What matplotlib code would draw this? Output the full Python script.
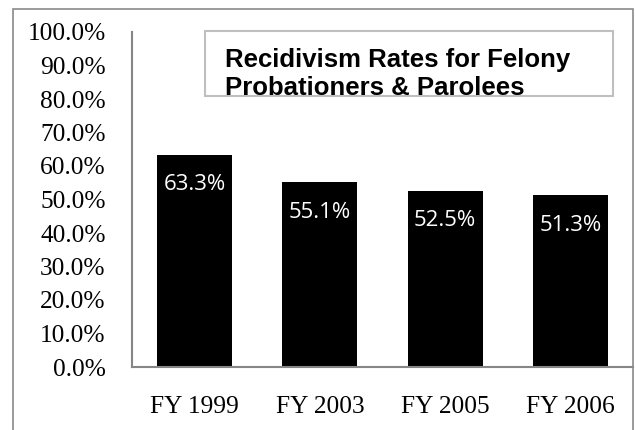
import matplotlib
matplotlib.use("Agg")
import matplotlib.pyplot as plt
from matplotlib.patches import Rectangle
from matplotlib.ticker import FuncFormatter, MultipleLocator

categories = ["FY 1999", "FY 2003", "FY 2005", "FY 2006"]
rates = [63.3, 55.1, 52.5, 51.3]
title_lines = ["Recidivism Rates for Felony", "Probationers & Parolees"]

W, H = 635, 430
fig = plt.figure(figsize=(W / 100, H / 100), dpi=100)

def fx(px):
    return px / W

def fy(py):
    return 1 - py / H

ax = fig.add_axes([fx(132), fy(367), fx(633) - fx(132), fy(32) - fy(367)])
x = list(range(len(categories)))
ax.bar(x, rates, width=0.6, color="black", zorder=2)
ax.set_xlim(-0.5, 3.5)
ax.set_ylim(0, 100)
ax.yaxis.set_major_locator(MultipleLocator(10))
ax.yaxis.set_major_formatter(FuncFormatter(lambda v, p: f"{v:.1f}%"))
ax.set_xticks(x)
ax.set_xticklabels(categories)
for lab in ax.get_xticklabels() + ax.get_yticklabels():
    lab.set_family("Liberation Serif")
    lab.set_fontsize(18.3)
    lab.set_color("black")
ax.tick_params(axis="y", length=0, pad=19)
ax.tick_params(axis="x", length=0, pad=21)
for s in ["top", "right"]:
    ax.spines[s].set_visible(False)
for s in ["left", "bottom"]:
    ax.spines[s].set_color("#868686")
    ax.spines[s].set_linewidth(1.5)

for xi, v in zip(x, rates):
    ax.annotate(f"{v:.1f}%", (xi, v), xytext=(0, -21.5), textcoords="offset points",
                ha="center", va="center", color="white", fontsize=16,
                family="Open Sans", zorder=3)

# outer border
fig.patches.append(Rectangle((fx(13), fy(440)), fx(633) - fx(13), fy(9) - fy(440),
                             transform=fig.transFigure, fill=False,
                             edgecolor="#8a8a8a", linewidth=1.2, clip_on=False))

# title box
box = Rectangle((fx(205), fy(96)), fx(613) - fx(205), fy(31) - fy(96),
                transform=fig.transFigure, facecolor="white",
                edgecolor="#bfbfbf", linewidth=1.5, zorder=5)
fig.patches.append(box)
t1 = fig.text(fx(225), fy(67), title_lines[0], family="Liberation Sans",
              weight="bold", fontsize=18.5, ha="left", va="baseline", zorder=6)
t2 = fig.text(fx(225), fy(95), title_lines[1], family="Liberation Sans",
              weight="bold", fontsize=18.5, ha="left", va="baseline", zorder=6)
for t in (t1, t2):
    t.set_clip_path(box)

fig.savefig("out.png", dpi=100)
